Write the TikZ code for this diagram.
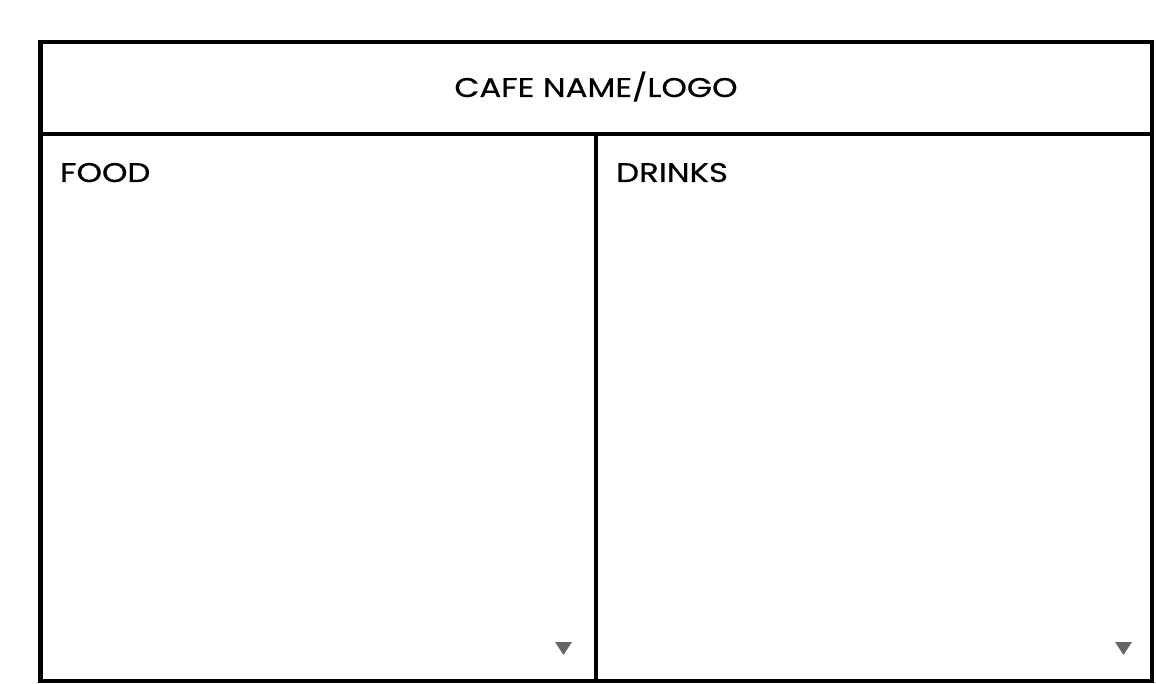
\documentclass[tikz,border=0pt]{standalone}
\usepackage{fontspec}
\setmainfont{Poppins}[FakeStretch=1.2,FakeBold=0.6]
\begin{document}
\begin{tikzpicture}[x=1pt,y=-1pt,
    frame/.style={line width=4.5pt},
    label/.style={inner sep=0pt,font=\fontsize{27}{32}\selectfont},
    more/.style={fill=black!60}]
  \useasboundingbox (0,0) rectangle (1156,684);
  % outer frame and header
  \draw[frame] (40.5,42) rectangle (1152,681);
  \draw[frame] (40.5,134) -- (1152,134);
  \draw[frame] (596,134) -- (596,681);
  \node[label,anchor=base] (title) at (596,97) {CAFE NAME/LOGO};
  \node[label,anchor=base west] (food) at (60,182) {FOOD};
  \node[label,anchor=base west] (drinks) at (616,182) {DRINKS};
  % scroll markers
  \fill[more] (555,642) -- (572,642) -- (563.5,655) -- cycle;
  \fill[more] (1115,642) -- (1132,642) -- (1123.5,655) -- cycle;
\end{tikzpicture}
\end{document}
